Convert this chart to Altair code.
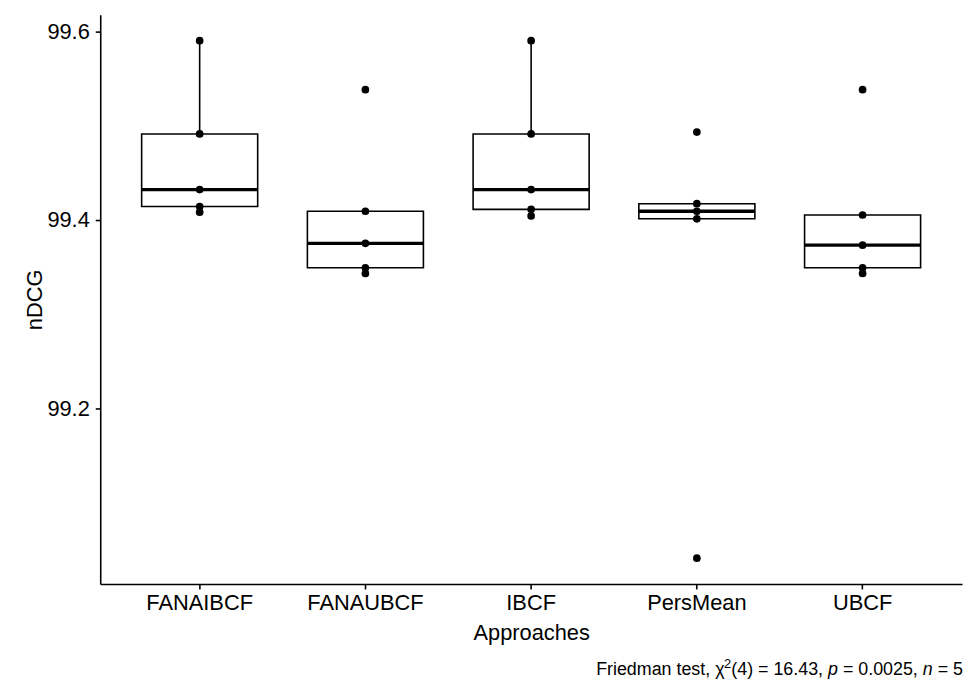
import altair as alt
import pandas as pd

# ---- data ----
approaches = ["FANAIBCF", "FANAUBCF", "IBCF", "PersMean", "UBCF"]
fanaibcf = [99.408, 99.414, 99.432, 99.491, 99.590]
fanaubcf = [99.343, 99.349, 99.375, 99.409, 99.538]
ibcf = [99.404, 99.411, 99.432, 99.491, 99.590]
persmean = [99.041, 99.401, 99.409, 99.417, 99.493]
ubcf = [99.343, 99.349, 99.373, 99.405, 99.538]
y_ticks = [99.2, 99.4, 99.6]

series = [fanaibcf, fanaubcf, ibcf, persmean, ubcf]
rows = []
for name, vals in zip(approaches, series):
    for v in vals:
        rows.append({"Approach": name, "nDCG": v})
df = pd.DataFrame(rows)

# ggplot-like 5% expansion of the data range
lo = min(min(s) for s in series)
hi = max(max(s) for s in series)
pad = (hi - lo) * 0.05
y_domain = [lo - pad, hi + pad]

W, H = 869, 574
FONT = "Liberation Sans"
LW = 1.6

x_enc = alt.X(
    "Approach:N",
    sort=approaches,
    scale=alt.Scale(paddingInner=0, paddingOuter=0.1),
    title="Approaches",
    axis=alt.Axis(labelAngle=0, labelPadding=4, titlePadding=8.5),
)
y_enc = alt.Y(
    "nDCG:Q",
    scale=alt.Scale(domain=y_domain, nice=False, zero=False),
    title="nDCG",
    axis=alt.Axis(values=y_ticks, format=".1f", labelPadding=6, titlePadding=0),
)

box = alt.Chart(df).mark_boxplot(
    extent=1.5,
    size=117,
    ticks=False,
    outliers=False,
    box={"fill": "white", "stroke": "black", "strokeWidth": LW, "opacity": 1},
    median={"color": "black", "thickness": 3.3, "opacity": 1},
    rule={"color": "black", "strokeWidth": LW, "opacity": 1},
).encode(x=x_enc, y=y_enc)

pts = alt.Chart(df).mark_circle(size=60, color="black", opacity=1).encode(
    x=alt.X("Approach:N", sort=approaches), y="nDCG:Q"
)

# ---- caption: Friedman test, χ²(4) = 16.43, p = 0.0025, n = 5 ----
AW = {" ": 278, ",": 278, ".": 278, "(": 333, ")": 333, "=": 584,
      "F": 611, "r": 333, "i": 222, "e": 556, "d": 556, "m": 833,
      "a": 556, "n": 556, "t": 278, "s": 500, "p": 556, "χ": 500}
for dch in "0123456789":
    AW[dch] = 556

def tw(s, size):
    return sum(AW.get(c, 556) for c in s) * size / 1000.0

CAP = 18
SUP = 13
segments = [
    ("Friedman test, χ", "normal", CAP, 0),
    ("2", "normal", SUP, -7),
    ("(4) = 16.43, ", "normal", CAP, 0),
    ("p", "italic", CAP, 0),
    (" = 0.0025, ", "normal", CAP, 0),
    ("n", "italic", CAP, 0),
    (" = 5", "normal", CAP, 0),
]
total = sum(tw(s, sz) for s, _, sz, _ in segments)
cap_right = 870
cap_base = 666
xcur = cap_right - total
cap_layers = []
for s, style, sz, dy in segments:
    lead = len(s) - len(s.lstrip(" "))
    xl = xcur + tw(s[:lead], sz)
    txt = s.strip(" ")
    cap_layers.append(
        alt.Chart(pd.DataFrame({"t": [txt]})).mark_text(
            align="left", baseline="alphabetic", font=FONT, fontSize=sz,
            fontStyle=style, color="black", dy=dy,
        ).encode(text="t:N", x=alt.value(xl), y=alt.value(cap_base))
    )
    xcur += tw(s, sz)

chart = alt.layer(box, pts, *cap_layers).properties(
    width=W, height=H,
    autosize=alt.AutoSizeParams(type="none"),
    padding={"left": 93, "top": 4, "right": 3, "bottom": 96},
).configure_view(stroke=None).configure_axis(
    grid=False,
    domainColor="black", domainWidth=LW,
    tickColor="black", tickWidth=LW, tickSize=5,
    labelColor="black", titleColor="black",
    labelFont=FONT, titleFont=FONT,
    labelFontSize=22, titleFontSize=22,
    titleFontWeight="normal",
)

chart.save("out.html", embed_options={"renderer": "svg", "actions": False})
